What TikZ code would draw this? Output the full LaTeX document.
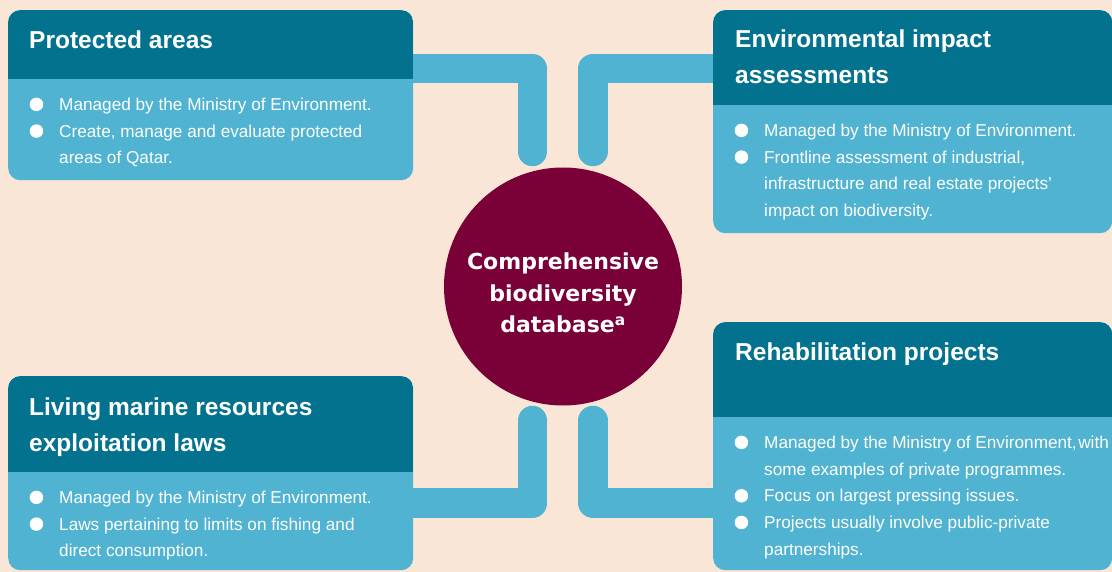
\documentclass[tikz,border=0pt]{standalone}
\usepackage{fontspec}
\setmainfont{Liberation Sans}
\newfontfamily\dbfont{DejaVu Sans}
\usepackage{tikz}
\usetikzlibrary{calc,positioning}
\definecolor{PageBg}{HTML}{FAE6D6}
\definecolor{HeadTeal}{HTML}{03728E}
\definecolor{BodyBlue}{HTML}{50B3D1}
\definecolor{DbMaroon}{HTML}{7A0038}
\pgfdeclarelayer{bg}
\pgfdeclarelayer{links}
\pgfsetlayers{bg,links,main}
\newcommand{\bul}{\llap{\tikz[baseline=-6pt]\fill[white] (0,0) circle[radius=6.75pt];\hspace{16pt}}}

\begin{document}
\begin{tikzpicture}[x=1pt,y=-1pt,
  infobox/.style={rectangle, rounded corners=12pt, fill=BodyBlue, inner sep=0pt,
    anchor=north west,
    path picture={\fill[HeadTeal, sharp corners] (path picture bounding box.north west)
      rectangle ([yshift=-#1]path picture bounding box.north east);}},
  headtext/.style={anchor=north west, inner sep=0pt, text=white, align=left,
    font=\bfseries\fontsize{24.5}{36.5}\selectfont},
  bodytext/.style={anchor=north west, inner sep=0pt, text=white, align=left,
    font=\fontsize{17.2}{26.7}\selectfont},
  link/.style={BodyBlue, line width=29.5pt, line cap=round, line join=round}]
  \begin{pgfonlayer}{bg}
    \fill[PageBg] (0,0) rectangle (1112,572);
  \end{pgfonlayer}
  \useasboundingbox (0,0) rectangle (1112,572);

  % the four boxes
  \node[infobox=69pt, minimum width=405pt, minimum height=170pt] (prot) at (8,10) {};
  \node[infobox=95pt, minimum width=399pt, minimum height=223pt] (eia) at (713,10) {};
  \node[infobox=96pt, minimum width=405pt, minimum height=194pt] (marine) at (8,376) {};
  \node[infobox=95pt, minimum width=399pt, minimum height=248pt] (rehab) at (713,322) {};

  % centre
  \node[circle, fill=DbMaroon, minimum size=238pt, inner sep=0pt] (db) at (563,286.5) {};
  \node[text=white, align=center, inner sep=0pt,
    font=\dbfont\bfseries\fontsize{22}{31.5}\selectfont] (dblabel) at (563,293)
    {Comprehensive\\biodiversity\\database\textsuperscript{a}};

  % headings
  \node[headtext] (prothead) at ([shift={(21,12.5)}]prot.north west) {\strut Protected areas};
  \node[headtext] (eiahead) at ([shift={(22,11.5)}]eia.north west)
    {\strut Environmental impact\\assessments};
  \node[headtext] (marinehead) at ([shift={(21,13.5)}]marine.north west)
    {\strut Living marine resources\\exploitation laws};
  \node[headtext] (rehabhead) at ([shift={(22,12.5)}]rehab.north west)
    {\strut Rehabilitation projects};

  % bullet lists
  \node[bodytext] (protbody) at (59,91.5)
    {\strut\bul Managed by the Ministry of Environment.\\
     \bul Create, manage and evaluate protected\\
     areas of Qatar.};
  \node[bodytext] (eiabody) at (764,117.5)
    {\strut\bul Managed by the Ministry of Environment.\\
     \bul Frontline assessment of industrial,\\
     infrastructure and real estate projects’\\
     impact on biodiversity.};
  \node[bodytext] (marinebody) at (59,484.5)
    {\strut\bul Managed by the Ministry of Environment.\\
     \bul Laws pertaining to limits on fishing and\\
     direct consumption.};
  \node[bodytext] (rehabbody) at (764,429.5)
    {\strut\bul Managed by the Ministry of Environment,\hspace{1.5pt}with\\
     some examples of private programmes.\\
     \bul Focus on largest pressing issues.\\
     \bul Projects usually involve public-private\\
     partnerships.};

  % connectors
  \coordinate (tlend) at (532.5,151.5);
  \coordinate (trend) at (593,151.5);
  \coordinate (blend) at (532.5,420.5);
  \coordinate (brend) at (593,420.5);
  \begin{pgfonlayer}{links}
    \draw[link] ([yshift=26.5pt]prot.east) -| (tlend);
    \draw[link] ([yshift=53pt]eia.west) -| (trend);
    \draw[link] ([yshift=-30pt]marine.east) -| (blend);
    \draw[link] ([yshift=-57pt]rehab.west) -| (brend);
  \end{pgfonlayer}
\end{tikzpicture}
\end{document}
